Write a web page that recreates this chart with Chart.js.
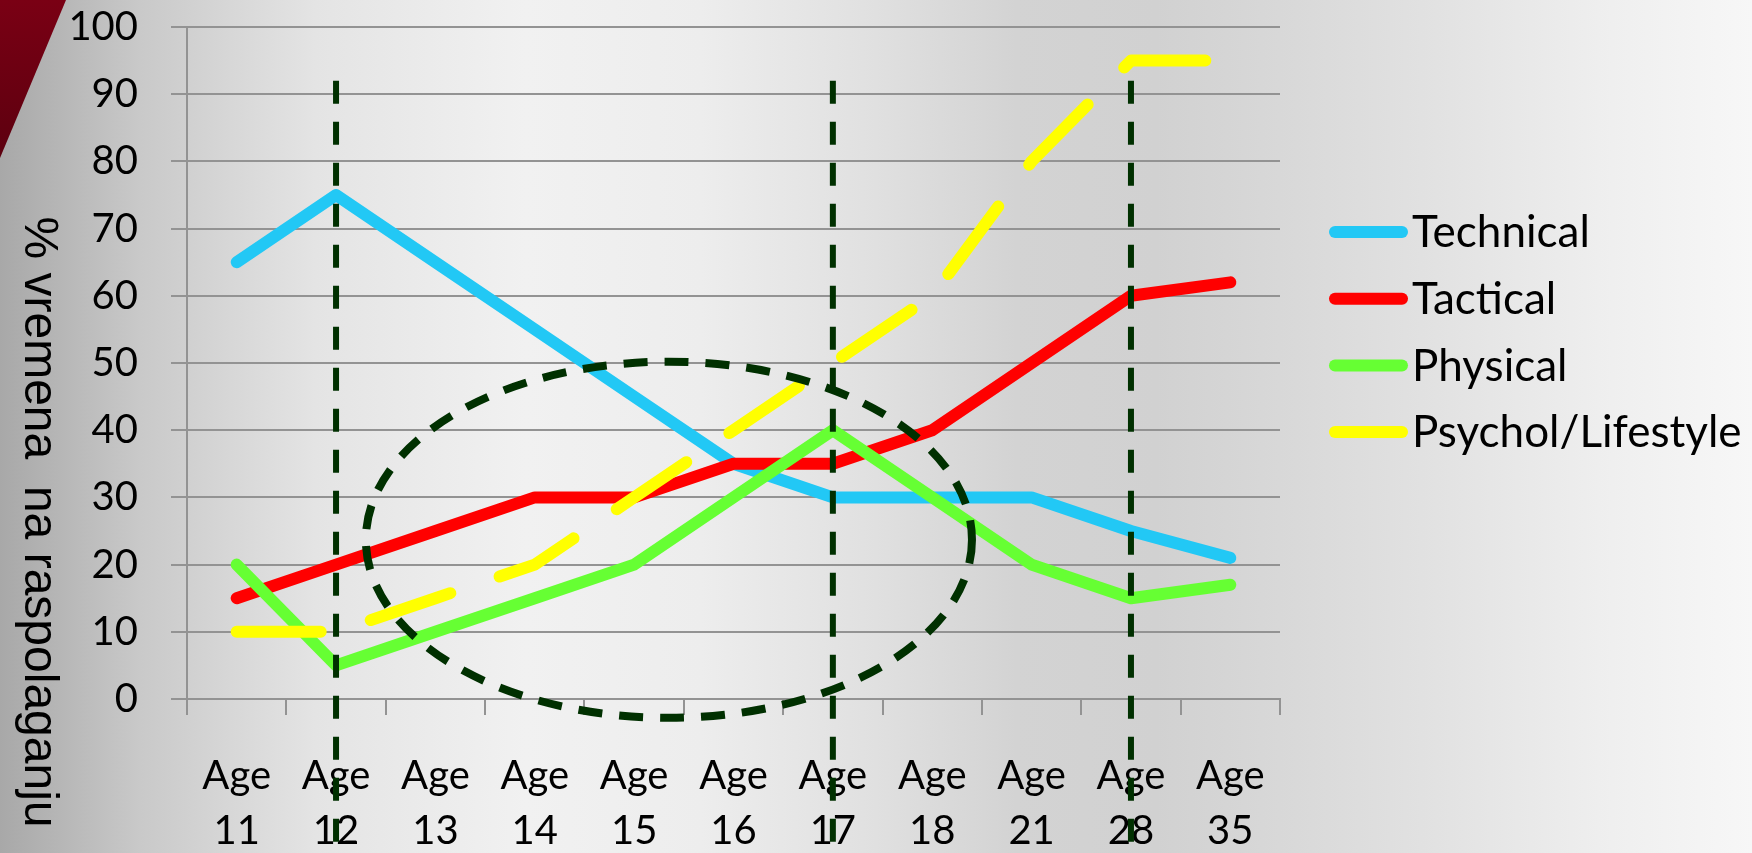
<!DOCTYPE html>
<html>
<head>
<meta charset="utf-8">
<script src="https://cdn.jsdelivr.net/npm/chart.js@4"></script>
<style>
  html, body { margin: 0; padding: 0; }
  body {
    width: 1752px; height: 853px; overflow: hidden; position: relative;
    background: linear-gradient(to right, #a8a8a8 0%, #c9c9c9 8%, #e4e4e4 18%, #f1f1f1 30%, #ededed 40%, #e0e0e0 50%, #d3d3d3 58%, #d1d1d1 66%, #d9d9d9 74%, #e2e2e2 82%, #efefef 92%, #f7f7f7 100%);
  }
  .corner {
    position: absolute; left: 0; top: 0; width: 70px; height: 160px;
    background: linear-gradient(to bottom, #7a0014, #5c000f);
    clip-path: polygon(0 0, 66px 0, 0 158px);
  }
  #chart { position: absolute; left: 0; top: 0; }
</style>
</head>
<body>
<div class="corner"></div>
<canvas id="chart" width="1752" height="853"></canvas>
<script>
// du lieu doc tu hinh
const ages = ['11', '12', '13', '14', '15', '16', '17', '18', '21', '28', '35'];
const technical = [65, 75, 65, 55, 45, 35, 30, 30, 30, 25, 21];
const tactical = [15, 20, 25, 30, 30, 35, 35, 40, 50, 60, 62];
const physical = [20, 5, 10, 15, 20, 30, 40, 30, 20, 15, 17];
const psychol = [10, 10, 15, 20, 30, 40, 50, 60, 80, 95, 95];
const yTicks = [0, 10, 20, 30, 40, 50, 60, 70, 80, 90, 100];
const seriesNames = ['Technical', 'Tactical', 'Physical', 'Psychol/Lifestyle'];
const yTitle = '% vremena  na raspolaganju';

// cac duong danh dau (vertical dashed) va vong elip
const markedAges = ['12', '17', '28'];
const markTop = 92;
const ellipseCenter = { index: 4.35, value: 23.7 };
const ellipseRadius = { index: 3.05, value: 26.5 };

const labels = ages.map(a => ['Age', a]);

// Ve legend tu dataset
const customLegend = {
  id: 'customLegend',
  afterDraw(chart) {
    let ctx = chart.ctx;
    ctx.save();
    chart.data.datasets.forEach((ds, i) => {
      let y = 232 + i * 66.7;
      ctx.beginPath();
      ctx.lineWidth = 12;
      ctx.lineCap = 'round';
      ctx.strokeStyle = ds.borderColor;
      ctx.moveTo(1335, y);
      ctx.lineTo(1402, y);
      ctx.stroke();
      ctx.fillStyle = '#000';
      ctx.font = '44px Lato';
      ctx.textAlign = 'left';
      ctx.textBaseline = 'middle';
      ctx.fillText(ds.label, 1412, y + 1);
    });
    ctx.restore();
  }
};

// Tieu de truc y, xoay doc tu tren xuong
const sideTitle = {
  id: 'sideTitle',
  afterDraw(chart) {
    let ctx = chart.ctx;
    ctx.save();
    ctx.translate(25, 522);
    ctx.rotate(Math.PI / 2);
    ctx.font = '48px "Liberation Sans"';
    ctx.fillStyle = '#000';
    ctx.textAlign = 'center';
    ctx.textBaseline = 'alphabetic';
    ctx.fillText(yTitle, 0, 0);
    ctx.restore();
  }
};

// Duong ke dut va elip
const markers = {
  id: 'markers',
  afterDraw(chart) {
    let ctx = chart.ctx;
    let xs = chart.scales.x;
    let ys = chart.scales.y;
    ctx.save();
    ctx.strokeStyle = '#003000';
    ctx.lineCap = 'butt';
    // elip
    let step = xs.getPixelForValue(1) - xs.getPixelForValue(0);
    let cx = xs.getPixelForValue(0) + ellipseCenter.index * step;
    let cy = ys.getPixelForValue(ellipseCenter.value);
    let rx = ellipseRadius.index * step;
    let ry = ys.getPixelForValue(0) - ys.getPixelForValue(ellipseRadius.value);
    ctx.lineWidth = 8;
    ctx.setLineDash([24, 17]);
    ctx.beginPath();
    ctx.ellipse(cx, cy, rx, ry, 0, 0, Math.PI * 2);
    ctx.stroke();
    // duong doc
    ctx.lineWidth = 6;
    ctx.setLineDash([23, 18]);
    for (let i = 0; i < markedAges.length; i++) {
      let x = xs.getPixelForValue(ages.indexOf(markedAges[i]));
      ctx.beginPath();
      ctx.moveTo(x, ys.getPixelForValue(markTop));
      ctx.lineTo(x, chart.height);
      ctx.stroke();
    }
    ctx.restore();
  }
};

const gridColor = '#939393';

new Chart(document.getElementById('chart'), {
  type: 'line',
  data: {
    labels: labels,
    datasets: [
      { label: seriesNames[0], data: technical, borderColor: '#22c8f5', order: 4 },
      { label: seriesNames[1], data: tactical, borderColor: '#ff0000', order: 3 },
      { label: seriesNames[2], data: physical, borderColor: '#66ff33', order: 2 },
      { label: seriesNames[3], data: psychol, borderColor: '#ffff00', borderDash: [84, 52], order: 1 }
    ]
  },
  options: {
    responsive: false,
    animation: false,
    devicePixelRatio: 1,
    layout: { padding: { top: 0, right: 472, left: 0, bottom: 0 } },
    elements: {
      line: { borderWidth: 12, tension: 0, borderCapStyle: 'round', borderJoinStyle: 'round', fill: false },
      point: { radius: 0, hoverRadius: 0 }
    },
    plugins: {
      legend: { display: false },
      tooltip: { enabled: false }
    },
    scales: {
      x: {
        offset: true,
        grid: { offset: true, drawOnChartArea: false, drawTicks: true, tickLength: 16, color: gridColor, lineWidth: 2 },
        border: { display: true, color: gridColor, width: 2 },
        ticks: {
          color: '#000', font: { family: 'Lato', size: 40, lineHeight: 1.375 },
          padding: 34, maxRotation: 0, autoSkip: false
        },
        afterFit(scale) { scale.height = 154; }
      },
      y: {
        min: 0, max: 100,
        afterBuildTicks(scale) { scale.ticks = yTicks.map(v => ({ value: v })); },
        grid: { color: gridColor, lineWidth: 2, tickLength: 16, drawTicks: true },
        border: { display: true, color: gridColor, width: 2 },
        ticks: { color: '#000', font: { family: 'Lato', size: 40 }, padding: 33 },
        afterFit(scale) {
          scale.width = 187;
          scale.paddingTop = 27;
          scale.paddingBottom = 0;
        }
      }
    }
  },
  plugins: [customLegend, sideTitle, markers]
});
</script>
</body>
</html>
